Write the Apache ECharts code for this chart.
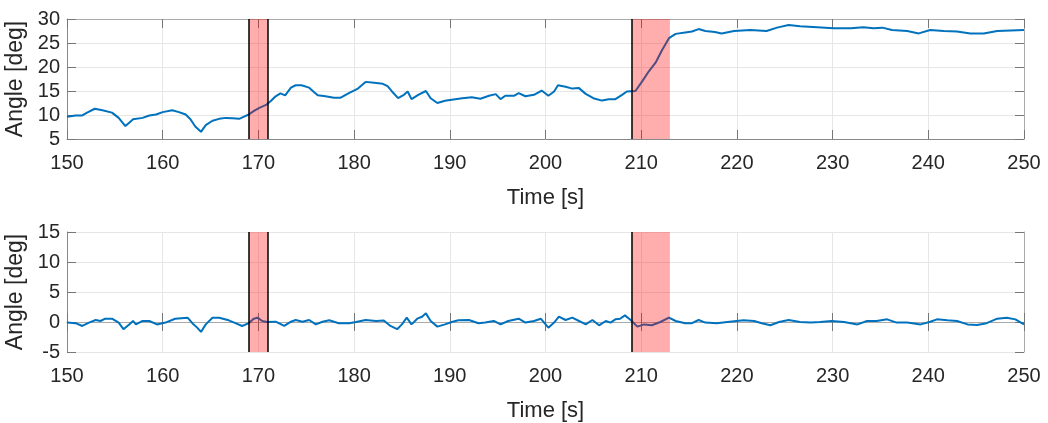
<!DOCTYPE html>
<html>
<head>
<meta charset="utf-8">
<script src="https://cdn.jsdelivr.net/npm/echarts@6/dist/echarts.min.js"></script>
<style>html,body{margin:0;padding:0;background:#fff;}#c{width:1048px;height:423px;}</style>
</head>
<body>
<div id="c"></div>
<script>
// ---- data ----
const topTime = [150,150.9,151.6,152.1,152.9,153.7,154.7,155.4,156.1,156.5,156.9,157.1,157.9,158.6,159.3,160.0,161.0,161.7,162.4,162.9,163.4,164.0,164.5,165.2,165.9,166.6,167.3,168.0,168.5,169.0,169.5,170.1,170.8,171.3,171.8,172.3,172.8,173.4,173.9,174.5,175.3,175.8,176.2,177.0,177.9,178.6,179.5,180.4,181.2,182.1,183.0,183.5,183.96,184.6,185.2,185.6,186.0,186.7,187.5,188.0,188.7,189.5,190.2,191.3,192.3,193.2,194.1,194.8,195.3,195.8,196.7,197.2,197.9,198.8,199.6,200.3,200.9,201.3,202.1,202.8,203.5,204.2,205.0,205.9,206.6,207.3,208.0,208.5,209.4,210.1,210.8,211.5,212.2,212.9,213.6,214.6,215.3,216.0,216.7,217.7,218.4,219.7,221.4,223.1,224.2,225.4,226.6,228.4,230.1,231.9,233.2,234.3,235.2,236.2,237.8,239.0,240.2,241.6,243.0,244.4,245.8,247.2,248.6,250];
const topAngle = [9.65,9.9,9.9,10.5,11.3,11.0,10.5,9.4,7.7,8.4,9.1,8.8,9.4,9.9,10.1,10.6,11.0,10.6,10.1,9.1,7.6,6.5,7.9,8.8,9.2,9.4,9.3,9.2,9.65,10.1,10.8,11.5,12.1,12.9,13.9,14.5,14.1,15.7,16.2,16.2,15.7,14.8,14.1,13.9,13.6,13.6,14.6,15.5,16.9,16.7,16.5,16.0,14.9,13.5,14.2,14.9,13.3,14.2,15.0,13.5,12.5,12.96,13.2,13.5,13.7,13.4,14.0,14.35,13.3,14.0,14.0,14.55,13.9,14.2,15.1,14.0,14.9,16.2,15.9,15.5,15.6,14.4,13.5,13.0,13.3,13.3,14.2,14.9,15.0,17.0,19.1,20.9,23.6,26.0,26.9,27.2,27.4,27.9,27.5,27.3,27.0,27.5,27.7,27.5,28.2,28.75,28.5,28.3,28.06,28.06,28.3,28.06,28.2,27.7,27.5,27.0,27.7,27.5,27.4,27.0,27.0,27.5,27.6,27.7];

const botTime = [150,150.9,151.6,152.3,153.0,153.5,154.0,154.7,155.4,155.9,156.5,156.9,157.2,157.9,158.6,159.4,160.3,161.3,162.6,163.1,163.6,164.0,164.5,165.2,165.9,166.9,167.6,168.3,169.0,169.5,169.9,170.4,170.9,171.8,172.7,173.4,173.9,174.6,175.3,176.0,176.7,177.4,178.4,179.5,180.2,181.2,182.3,183.1,183.8,184.5,185.0,185.5,186.0,186.6,187.1,187.5,188.0,188.7,189.5,190.2,190.9,192.0,193.0,193.7,194.6,195.3,196.1,197.2,197.9,198.8,199.5,200.3,200.9,201.4,202.1,202.8,203.5,204.2,204.9,205.6,206.3,206.8,207.3,207.8,208.3,208.9,209.6,210.3,211.1,212.0,212.9,213.6,214.6,215.3,216.0,216.7,217.9,219.0,220.7,221.8,222.6,223.5,224.4,225.4,226.6,227.7,228.7,229.9,231.2,232.6,233.6,234.6,235.7,236.7,237.8,239.2,240.2,240.9,242.0,243.0,244.1,245.1,246.1,247.2,248.2,249.1,250];
const botAngle = [-0.1,-0.2,-0.66,-0.1,0.33,0.17,0.55,0.55,-0.1,-1.2,-0.4,0.17,-0.4,0.17,0.17,-0.4,-0.1,0.55,0.72,-0.2,-0.94,-1.66,-0.4,0.72,0.72,0.28,-0.2,-0.66,-0.2,0.55,0.72,0.17,0,0.05,-0.66,0.05,0.33,0.05,0.33,-0.4,0.05,0.28,-0.2,-0.2,0,0.33,0.17,0.25,-0.66,-1.2,-0.4,0.72,-0.4,0.55,0.88,1.44,0.17,-0.77,-0.4,0,0.28,0.33,-0.2,-0.1,0.17,-0.4,0.17,0.55,-0.1,0.17,0.55,-0.94,-0.1,0.88,0.33,0.72,0.17,-0.4,0.33,-0.55,0.17,-0.1,0.44,0.55,1.1,0.33,-0.77,-0.4,-0.55,0,0.72,0.17,-0.2,-0.2,0.33,-0.1,-0.2,0,0.28,0.17,-0.2,-0.55,0,0.33,0,-0.1,0,0.17,0,-0.4,0.17,0.17,0.44,-0.1,-0.1,-0.4,0.05,0.44,0.28,0.17,-0.4,-0.5,-0.2,0.55,0.72,0.44,-0.4];

const shadedIntervals = [[169, 171], [209, 213]];
const edgeLines = [169, 171, 209];
const xTicks = {min: 150, max: 250, interval: 10};
const topY = {min: 5, max: 30, interval: 5};
const botY = {min: -5, max: 15, interval: 5};
const xName = 'Time [s]';
const yName = 'Angle [deg]';

// ---- chart ----
const txt = '#262626';
const font = 'Liberation Sans, Arial, sans-serif';
function pairs(t, v) { return t.map((x, i) => [x, v[i]]); }

function mainX(gi) {
  return {
    type: 'value', gridIndex: gi, min: xTicks.min, max: xTicks.max, interval: xTicks.interval,
    position: 'bottom',
    name: xName, nameLocation: 'middle', nameGap: 48,
    nameTextStyle: {color: txt, fontSize: 22, fontFamily: font},
    axisLine: {show: true, lineStyle: {color: '#888', width: 1}},
    axisTick: {show: true, inside: true, length: 9, lineStyle: {color: '#777'}},
    axisLabel: {color: txt, fontSize: 20, fontFamily: font, margin: 14},
    splitLine: {show: true, lineStyle: {color: '#e6e6e6', width: 1}}
  };
}
function oppX(gi) {
  return {
    type: 'value', gridIndex: gi, min: xTicks.min, max: xTicks.max, interval: xTicks.interval,
    position: 'top',
    axisLine: {show: true, lineStyle: {color: '#aaa', width: 1}},
    axisTick: {show: true, inside: true, length: 9, lineStyle: {color: '#777'}},
    axisLabel: {show: false}, splitLine: {show: false}
  };
}
function mainY(gi, r) {
  return {
    type: 'value', gridIndex: gi, min: r.min, max: r.max, interval: r.interval,
    position: 'left',
    name: yName, nameLocation: 'middle', nameGap: 30, nameRotate: 90,
    nameTextStyle: {color: txt, fontSize: 23, fontFamily: font},
    axisLine: {show: true, lineStyle: {color: '#888', width: 1}},
    axisTick: {show: true, inside: true, length: 9, lineStyle: {color: '#777'}},
    axisLabel: {color: txt, fontSize: 20, fontFamily: font, margin: 7},
    splitLine: {show: true, lineStyle: {color: '#e6e6e6', width: 1}}
  };
}
function oppY(gi, r) {
  return {
    type: 'value', gridIndex: gi, min: r.min, max: r.max, interval: r.interval,
    position: 'right',
    axisLine: {show: true, lineStyle: {color: '#aaa', width: 1}},
    axisTick: {show: true, inside: true, length: 9, lineStyle: {color: '#777'}},
    axisLabel: {show: false}, splitLine: {show: false}
  };
}
function shadeSeries(xi, yi) {
  return {
    type: 'line', xAxisIndex: xi, yAxisIndex: yi, data: [], silent: true, z: 4,
    markArea: {
      silent: true, z: 4,
      itemStyle: {color: 'rgba(255,0,0,0.32)'},
      data: shadedIntervals.map(s => [{xAxis: s[0]}, {xAxis: s[1]}])
    },
    markLine: {
      silent: true, symbol: 'none', z: 5, label: {show: false},
      lineStyle: {color: '#000', width: 1.5, type: 'solid'},
      data: edgeLines.map(x => ({xAxis: x}))
    }
  };
}
function lineSeries(xi, yi, t, v) {
  return {
    type: 'line', xAxisIndex: xi, yAxisIndex: yi, data: pairs(t, v), z: 2,
    showSymbol: false, symbol: 'none', smooth: false,
    lineStyle: {color: '#0072BD', width: 2}
  };
}

const chart = echarts.init(document.getElementById('c'), null, {renderer: 'canvas'});
chart.setOption({
  animation: false,
  backgroundColor: '#fff',
  grid: [
    {left: 67, right: 24, top: 19, height: 120, outerBoundsMode: 'none', containLabel: false},
    {left: 67, right: 24, top: 232, height: 120, outerBoundsMode: 'none', containLabel: false}
  ],
  xAxis: [mainX(0), oppX(0), mainX(1), oppX(1)],
  yAxis: [mainY(0, topY), oppY(0, topY), mainY(1, botY), oppY(1, botY)],
  series: [
    lineSeries(0, 0, topTime, topAngle),
    shadeSeries(0, 0),
    lineSeries(2, 2, botTime, botAngle),
    shadeSeries(2, 2)
  ]
});
</script>
</body>
</html>
